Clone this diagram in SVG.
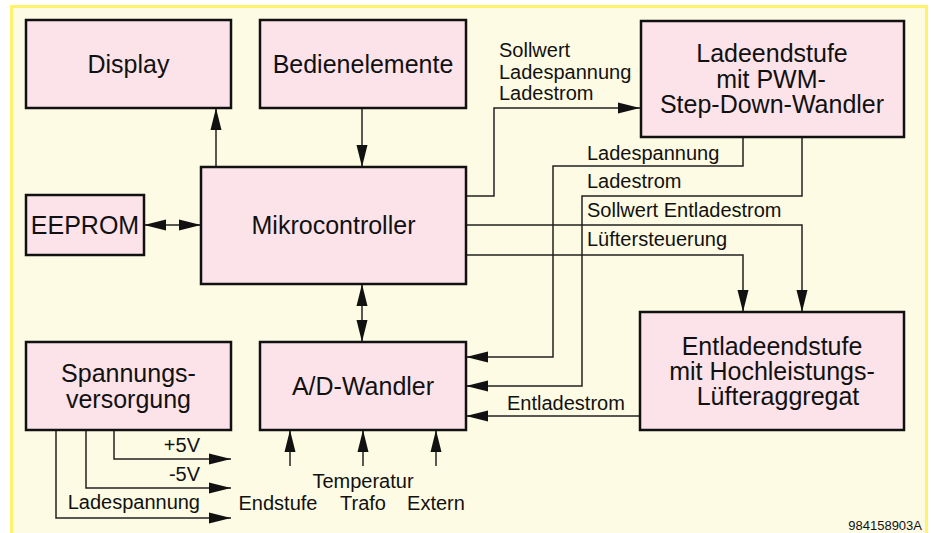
<svg xmlns="http://www.w3.org/2000/svg" width="933" height="533" viewBox="0 0 933 533">
<style>
.box{fill:#fce3e9;stroke:#111;stroke-width:2.5}
.nt{font-family:"Liberation Sans",Arial,sans-serif;font-size:25px;fill:#111;text-anchor:middle}
.lt{font-family:"Liberation Sans",Arial,sans-serif;font-size:20px;fill:#111}
.w{fill:none;stroke:#222;stroke-width:1.5}
</style>
<defs>
<marker id="a" markerUnits="userSpaceOnUse" markerWidth="22" markerHeight="12" refX="22" refY="5.5" orient="auto-start-reverse" viewBox="0 0 22 11">
<path d="M0,0 L22,5.5 L0,11 z" fill="#111"/>
</marker>
</defs>
<rect x="0" y="0" width="933" height="533" fill="#fff"/>
<rect x="11.5" y="6.5" width="915" height="540" fill="#fdfbe3" stroke="#fff36e" stroke-width="3"/>

<g id="connectors">
<path class="w" d="M216,167 V108" marker-end="url(#a)"/>
<path class="w" d="M362,108 V167" marker-end="url(#a)"/>
<path class="w" d="M466,196 H494 V108 H640" marker-end="url(#a)"/>
<path class="w" d="M743,137 V166 H553 V357 H466" marker-end="url(#a)"/>
<path class="w" d="M802,137 V196 H582 V386 H466" marker-end="url(#a)"/>
<path class="w" d="M466,225 H802 V312" marker-end="url(#a)"/>
<path class="w" d="M466,255 H743 V312" marker-end="url(#a)"/>
<path class="w" d="M362,284 V342" marker-start="url(#a)" marker-end="url(#a)"/>
<path class="w" d="M144,225 H201" marker-start="url(#a)" marker-end="url(#a)"/>
<path class="w" d="M640,416 H466" marker-end="url(#a)"/>
<path class="w" d="M290,466 V430" marker-end="url(#a)"/>
<path class="w" d="M363,466 V430" marker-end="url(#a)"/>
<path class="w" d="M436,466 V430" marker-end="url(#a)"/>
<path class="w" d="M114,430 V459 H231" marker-end="url(#a)"/>
<path class="w" d="M86,430 V488 H231" marker-end="url(#a)"/>
<path class="w" d="M56,430 V518 H231" marker-end="url(#a)"/>
</g>

<g id="labels">
<text class="lt" x="499" y="57">Sollwert</text>
<text class="lt" x="499" y="79">Ladespannung</text>
<text class="lt" x="499" y="100">Ladestrom</text>
<text class="lt" x="587" y="160">Ladespannung</text>
<text class="lt" x="587" y="188">Ladestrom</text>
<text class="lt" x="587" y="217">Sollwert Entladestrom</text>
<text class="lt" x="587" y="246">Lüftersteuerung</text>
<text class="lt" x="507" y="410">Entladestrom</text>
<text class="lt" x="363" y="488" text-anchor="middle">Temperatur</text>
<text class="lt" x="278" y="510" text-anchor="middle">Endstufe</text>
<text class="lt" x="363" y="510" text-anchor="middle">Trafo</text>
<text class="lt" x="436" y="510" text-anchor="middle">Extern</text>
<text class="lt" x="200" y="452" text-anchor="end">+5V</text>
<text class="lt" x="200" y="481" text-anchor="end">-5V</text>
<text class="lt" x="200" y="509" text-anchor="end">Ladespannung</text>
<text x="922" y="530" text-anchor="end" style="font-family:'Liberation Sans',Arial,sans-serif;font-size:13px;fill:#111">984158903A</text>
</g>

<g id="display"><rect class="box" x="26" y="20" width="205" height="88"/><text class="nt" x="128.5" y="73">Display</text></g>
<g id="bedienelemente"><rect class="box" x="260" y="20" width="206" height="88"/><text class="nt" x="363" y="73">Bedienelemente</text></g>
<g id="ladeendstufe"><rect class="box" x="641" y="21" width="263" height="116"/><text class="nt" x="772" y="62">Ladeendstufe</text><text class="nt" x="771" y="88">mit PWM-</text><text class="nt" x="772" y="113">Step-Down-Wandler</text></g>
<g id="eeprom"><rect class="box" x="26" y="195" width="118" height="60"/><text class="nt" x="85" y="234">EEPROM</text></g>
<g id="mikrocontroller"><rect class="box" x="201" y="167" width="265" height="117"/><text class="nt" x="333.5" y="234">Mikrocontroller</text></g>
<g id="spannungsversorgung"><rect class="box" x="26" y="342" width="205" height="88"/><text class="nt" x="128.5" y="382">Spannungs-</text><text class="nt" x="128.5" y="408">versorgung</text></g>
<g id="adwandler"><rect class="box" x="260" y="342" width="206" height="88"/><text class="nt" x="363" y="395">A/D-Wandler</text></g>
<g id="entladeendstufe"><rect class="box" x="640" y="312" width="264" height="118"/><text class="nt" x="772" y="355">Entladeendstufe</text><text class="nt" x="772" y="380">mit Hochleistungs-</text><text class="nt" x="778" y="405">Lüfteraggregat</text></g>
</svg>
